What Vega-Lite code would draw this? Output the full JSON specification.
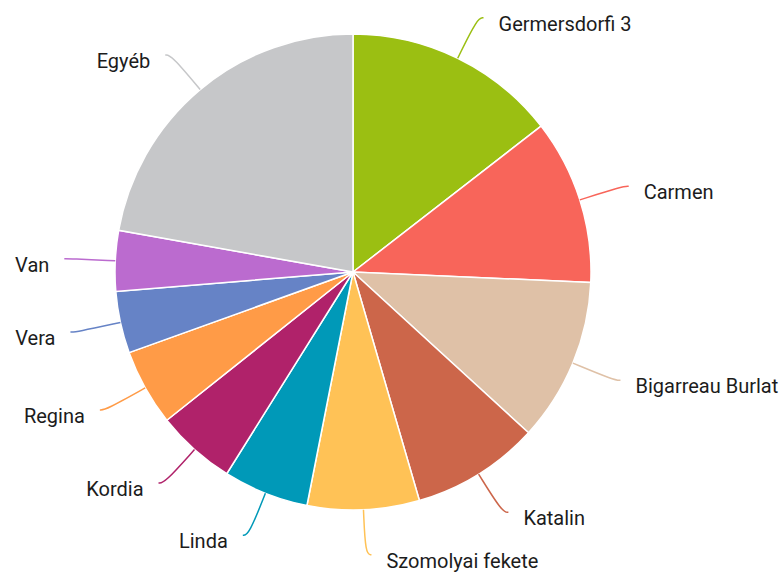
{
  "$schema": "https://vega.github.io/schema/vega-lite/v6.json",
  "width": 706,
  "height": 544,
  "autosize": "none",
  "padding": {"left": 0, "top": 0, "right": 78, "bottom": 33},
  "background": "white",
  "config": {"view": {"stroke": null}},
  "data": {
    "values": [
      {"idx": 1, "name": "Germersdorfi 3", "value": 14.5},
      {"idx": 2, "name": "Carmen", "value": 11.2},
      {"idx": 3, "name": "Bigarreau Burlat", "value": 11.1},
      {"idx": 4, "name": "Katalin", "value": 8.7},
      {"idx": 5, "name": "Szomolyai fekete", "value": 7.6},
      {"idx": 6, "name": "Linda", "value": 5.8},
      {"idx": 7, "name": "Kordia", "value": 5.4},
      {"idx": 8, "name": "Regina", "value": 5.2},
      {"idx": 9, "name": "Vera", "value": 4.2},
      {"idx": 10, "name": "Van", "value": 4.1},
      {"idx": 11, "name": "Egyéb", "value": 22.2}
    ]
  },
  "transform": [
    {"joinaggregate": [{"op": "sum", "field": "value", "as": "total"}]},
    {"window": [{"op": "sum", "field": "value", "as": "cum"}], "sort": [{"field": "idx"}], "frame": [null, 0]},
    {"calculate": "2*PI*(datum.cum - datum.value/2)/datum.total", "as": "a"},
    {"calculate": "datum.a < PI", "as": "right"},
    {"calculate": "238*sin(datum.a)", "as": "sx"},
    {"calculate": "238*cos(datum.a)", "as": "sy"},
    {"calculate": "283*sin(datum.a)", "as": "mx"},
    {"calculate": "283*cos(datum.a)", "as": "my"},
    {"calculate": "datum.right ? datum.mx + 6 : datum.mx - 6", "as": "ex"}
  ],
  "layer": [
    {
      "mark": {"type": "arc", "outerRadius": 238, "stroke": "#ffffff", "strokeWidth": 1.5},
      "encoding": {
        "theta": {"field": "value", "type": "quantitative", "stack": true},
        "order": {"field": "idx", "type": "quantitative"},
        "color": {
          "field": "name",
          "type": "nominal",
          "legend": null,
          "scale": {
            "domain": ["Germersdorfi 3", "Carmen", "Bigarreau Burlat", "Katalin", "Szomolyai fekete", "Linda", "Kordia", "Regina", "Vera", "Van", "Egyéb"],
            "range": ["#9BBF12", "#F8655A", "#DFC1A7", "#CC664A", "#FFC256", "#0099B8", "#B0226A", "#FF9B47", "#6683C6", "#BB6BCF", "#C6C7C9"]
          }
        }
      }
    },
    {
      "transform": [
        {"calculate": "[datum.sx, datum.mx, datum.ex]", "as": "xs"},
        {"calculate": "[datum.sy, datum.my, datum.my]", "as": "ys"},
        {"calculate": "[0, 1, 2]", "as": "ks"},
        {"flatten": ["xs", "ys", "ks"], "as": ["lx", "ly", "lk"]}
      ],
      "mark": {"type": "line", "interpolate": "basis", "strokeWidth": 1.5},
      "encoding": {
        "x": {"field": "lx", "type": "quantitative", "axis": null, "scale": {"domain": [-353, 353], "nice": false, "zero": false}},
        "y": {"field": "ly", "type": "quantitative", "axis": null, "scale": {"domain": [-272, 272], "nice": false, "zero": false}},
        "detail": {"field": "name"},
        "order": {"field": "lk", "type": "quantitative"},
        "color": {"field": "name", "type": "nominal", "legend": null}
      }
    },
    {
      "transform": [{"filter": "datum.right"}],
      "mark": {"type": "text", "align": "left", "baseline": "middle", "dx": 15, "dy": 7, "font": "Roboto", "fontSize": 20, "color": "#1c1c1c"},
      "encoding": {
        "x": {"field": "ex", "type": "quantitative", "axis": null, "scale": {"domain": [-353, 353], "nice": false, "zero": false}},
        "y": {"field": "my", "type": "quantitative", "axis": null, "scale": {"domain": [-272, 272], "nice": false, "zero": false}},
        "text": {"field": "name"}
      }
    },
    {
      "transform": [{"filter": "!datum.right"}],
      "mark": {"type": "text", "align": "right", "baseline": "middle", "dx": -15, "dy": 7, "font": "Roboto", "fontSize": 20, "color": "#1c1c1c"},
      "encoding": {
        "x": {"field": "ex", "type": "quantitative", "axis": null, "scale": {"domain": [-353, 353], "nice": false, "zero": false}},
        "y": {"field": "my", "type": "quantitative", "axis": null, "scale": {"domain": [-272, 272], "nice": false, "zero": false}},
        "text": {"field": "name"}
      }
    }
  ]
}
